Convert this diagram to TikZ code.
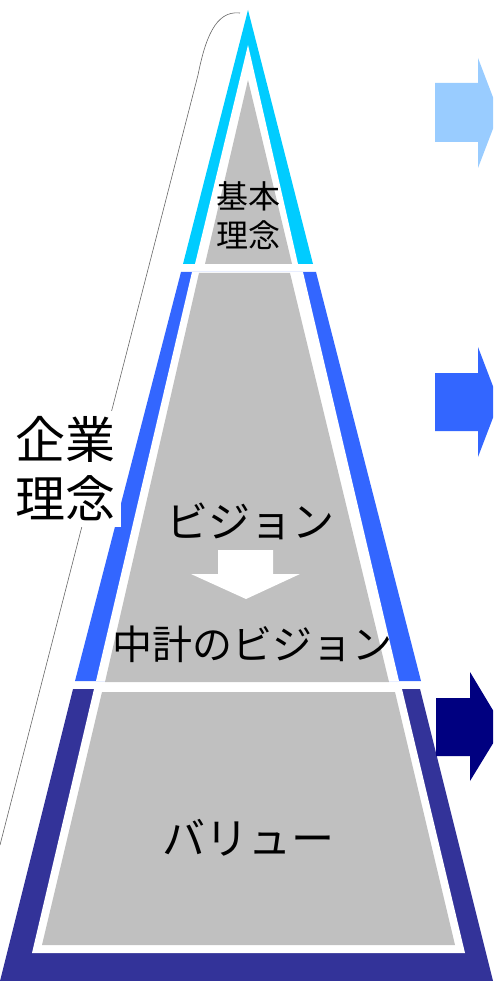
\documentclass[tikz,border=0pt]{standalone}
\usepackage{fontspec}
\setmainfont{Noto Sans CJK JP}
\definecolor{topcyan}{HTML}{00CCFF}
\definecolor{midblue}{HTML}{3366FF}
\definecolor{lowblue}{HTML}{333399}
\definecolor{pyrgray}{HTML}{C0C0C0}
\definecolor{arrowlight}{HTML}{99CCFF}
\definecolor{arrownavy}{HTML}{000080}

\begin{document}
\begin{tikzpicture}[x=1pt, y=-1pt, every node/.style={inner sep=0pt, align=center}]
  \useasboundingbox (0,0) rectangle (493,981);
  \clip (0,0) rectangle (493,981);

  \draw[black!60, line width=0.6pt] (240,13) .. controls (215,10) and (205,40) .. (198,75) -- (0,845);

  \fill[topcyan] (248,10) -- (313,264) -- (183,264) -- cycle;
  \fill[white] (248,45) -- (298,264) -- (195,264) -- cycle;
  \fill[pyrgray] (248,80) -- (292,264) -- (205,264) -- cycle;

  \fill[midblue] (181,272) -- (316,272) -- (421,681) -- (75,681) -- cycle;
  \fill[white] (192,272) -- (303,272) -- (399,681) -- (96,681) -- cycle;
  \fill[pyrgray] (199,273) -- (290,273) -- (389,682) -- (105,682) -- cycle;

  \fill[lowblue] (73,689) -- (420,689) -- (493,981) -- (0,981) -- cycle;
  \fill[white] (94,689) -- (402,689) -- (465,953) -- (32,953) -- cycle;
  \fill[pyrgray] (102,692) -- (395,692) -- (455,945) -- (42,945) -- cycle;

  \fill[arrowlight] (435,83) -- (478,83) -- (478,58) -- (499,113) -- (478,168) -- (478,142) -- (435,142) -- cycle;
  \fill[midblue] (435,373) -- (478,373) -- (478,347) -- (499,402) -- (478,457) -- (478,431) -- (435,431) -- cycle;
  \fill[arrownavy] (436,698) -- (470,698) -- (470,672) -- (503,727) -- (470,781) -- (470,756) -- (436,756) -- cycle;

  \fill[white] (218,550) -- (273,550) -- (273,574) -- (300,574) -- (246,599) -- (191,574) -- (218,574) -- cycle;

  \node[fill=white, inner sep=6pt, font=\fontsize{50}{59}\selectfont] (kigyo) at (65,469) {企業\\理念};
  \node[font=\fontsize{32}{39}\selectfont] (kihon) at (248,216) {基本\\理念};
  \node[font=\fontsize{42}{50}\selectfont] (vision) at (250,521) {ビジョン};
  \node[font=\fontsize{40}{48}\selectfont] (chukei) at (252,644) {中計のビジョン};
  \node[font=\fontsize{43}{50}\selectfont] (value) at (248,838) {バリュー};
\end{tikzpicture}
\end{document}
